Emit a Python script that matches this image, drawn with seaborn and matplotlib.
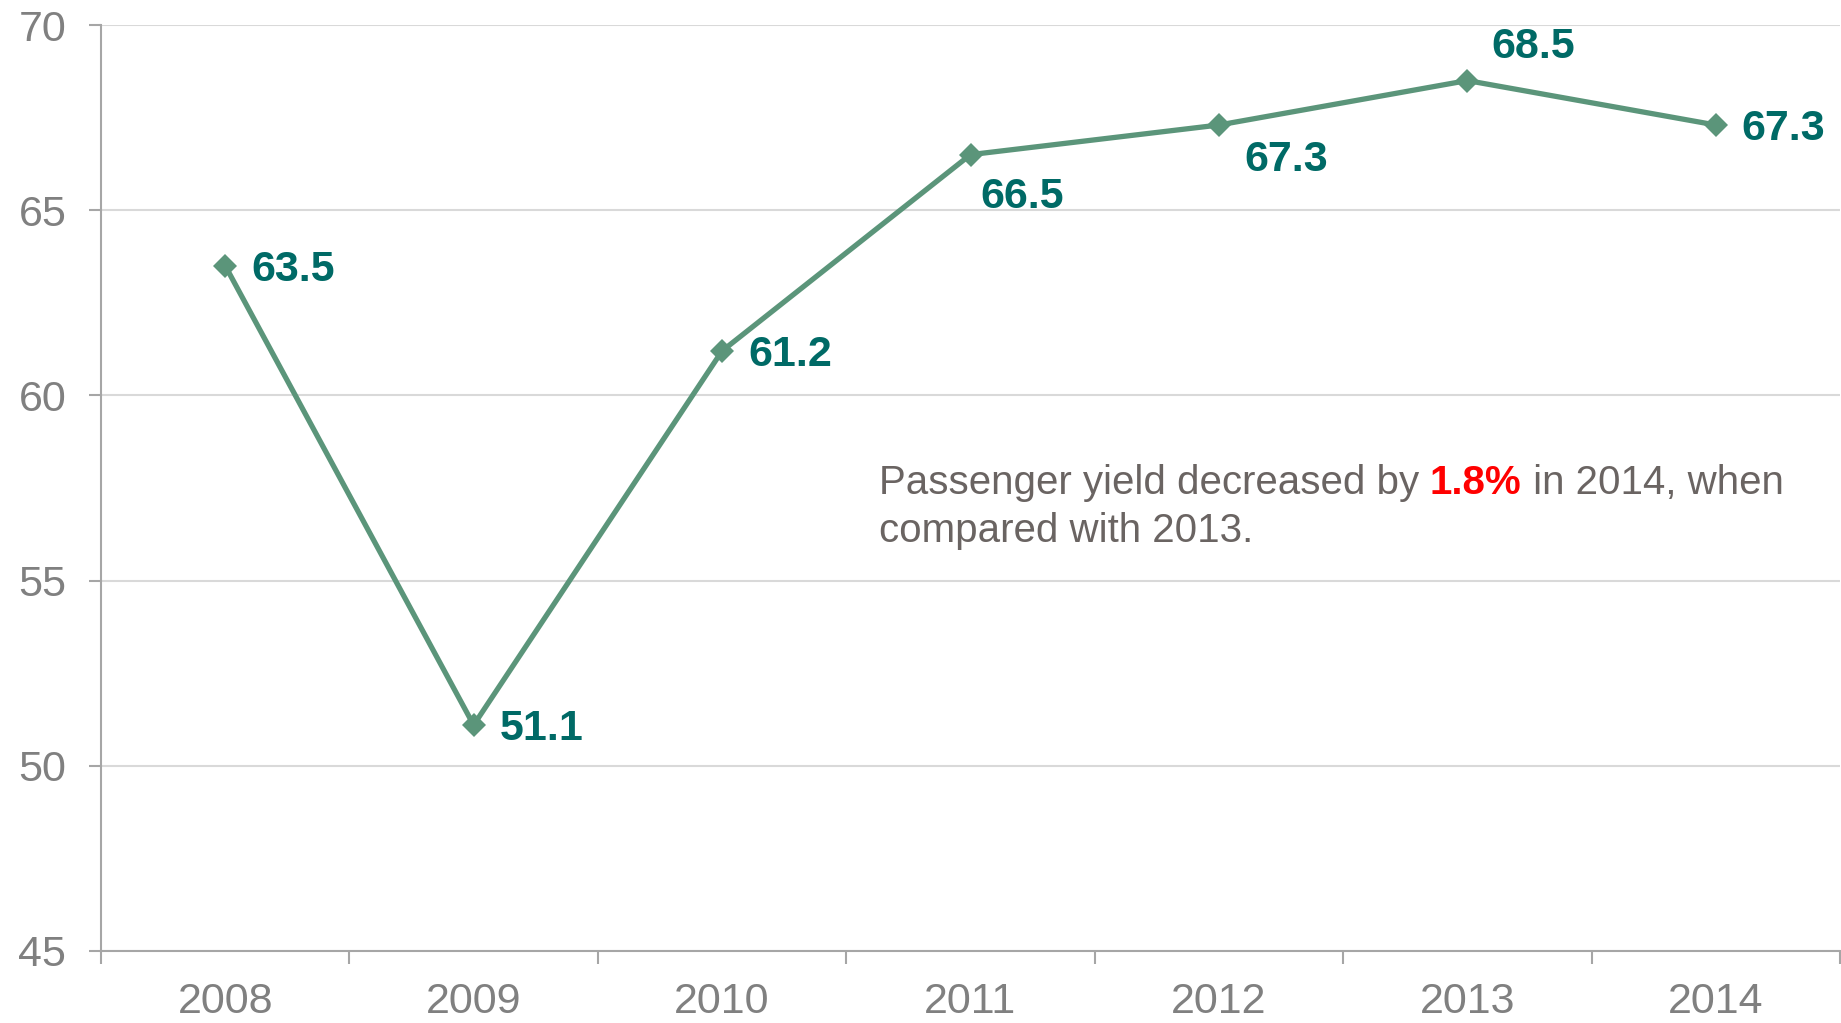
import matplotlib
matplotlib.use("Agg")
import matplotlib.pyplot as plt
import seaborn as sns
import pandas as pd
import numpy as np

# Passenger yield by year
years = ["2008", "2009", "2010", "2011", "2012", "2013", "2014"]
yield_values = [63.5, 51.1, 61.2, 66.5, 67.3, 68.5, 67.3]

# Label placement (pixel offsets from each point)
label_offsets = [(26, -4), (26, -4), (26, -4), (10, -42), (25, -35), (24, 34), (26, -4)]

y_ticks = [45, 50, 55, 60, 65, 70]

sns.set_style("white")
plt.rcParams["font.family"] = ["Liberation Sans", "DejaVu Sans"]

line_color = "#5B957A"
label_color = "#006A66"
tick_color = "#808080"
grid_color = "#D9D9D9"
axis_color = "#A6A6A6"

df = pd.DataFrame({"year": years, "yield": yield_values})

fig = plt.figure(figsize=(18.41, 10.23), dpi=100)
ax = fig.add_axes([101 / 1841, 72 / 1023, 1739 / 1841, 926 / 1023])

sns.lineplot(data=df, x="year", y="yield", ax=ax, color=line_color,
             linewidth=3.8, marker="D", markersize=12.5, markeredgewidth=0,
             sort=False, zorder=3)

ax.set_xlim(-0.5, len(years) - 0.5)
ax.set_ylim(45, 70)
ax.set_yticks(y_ticks)
ax.set_xlabel("")
ax.set_ylabel("")

# Horizontal gridlines
ax.yaxis.grid(True, color=grid_color, linewidth=1.5, zorder=0)
ax.xaxis.grid(False)
ax.set_axisbelow(True)

for side in ("top", "right"):
    ax.spines[side].set_visible(False)
for side in ("left", "bottom"):
    ax.spines[side].set_color(axis_color)
    ax.spines[side].set_linewidth(1.5)

# Tick marks at category boundaries on the x axis
ax.set_xticks(range(len(years)))
ax.set_xticklabels(years)
ax.set_xticks(np.arange(-0.5, len(years), 1.0), minor=True)
ax.tick_params(axis="x", which="major", bottom=True, length=0, pad=22,
               labelsize=31, labelcolor=tick_color)
ax.tick_params(axis="x", which="minor", bottom=True, length=9, width=1.5,
               color=axis_color, direction="out")
ax.tick_params(axis="y", left=True, length=9, width=1.5, color=axis_color,
               direction="out", pad=16, labelsize=31, labelcolor=tick_color)

# Value labels
for i, (v, (dx, dy)) in enumerate(zip(yield_values, label_offsets)):
    ax.annotate(f"{v:.1f}", xy=(i, v), xytext=(dx, dy), textcoords="offset pixels",
                ha="left", va="center", fontsize=31, fontweight="bold",
                color=label_color, zorder=4)

# Commentary text
note_color = "#6A6462"
t1 = ax.text(2.63, 57.35, "Passenger yield decreased by ", fontsize=29,
             color=note_color, ha="left", va="baseline")
t2 = ax.annotate("1.8%", xy=(1, 0), xycoords=t1, ha="left", va="bottom",
                 fontsize=29, fontweight="bold", color="#FF0000")
t3 = ax.annotate(" in 2014, when", xy=(1, 0), xycoords=t2, ha="left", va="bottom",
                 fontsize=29, color=note_color)
ax.text(2.63, 56.05, "compared with 2013.", fontsize=29, color=note_color,
        ha="left", va="baseline")

fig.savefig("out.png", dpi=100)
